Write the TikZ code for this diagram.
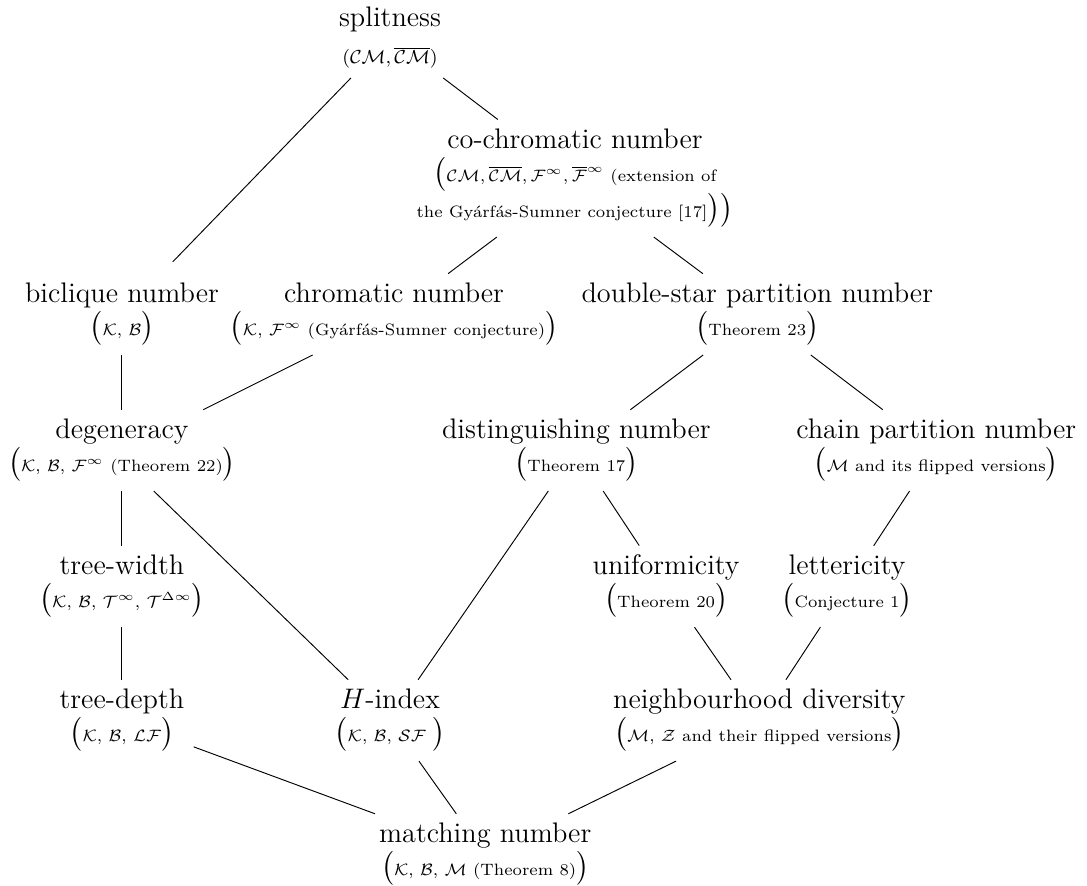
\documentclass[tikz,border=0pt]{standalone}
\usepackage{amsmath}
\usetikzlibrary{positioning}

\newcommand{\params}[1]{$\bigl(${\scriptsize #1}$\bigr)$}

\begin{document}
\begin{tikzpicture}
        [
        every node/.style={align=center, font=\large, inner sep=2pt, outer sep=2pt},
        link/.style={draw}
        ]
        \useasboundingbox (0,0) rectangle (16.22,-13.22);
        % Level 0
        \node (split) at (5.82,-0.56) {splitness\\[2pt] {\footnotesize $(\mathcal{CM},\overline{\mathcal{CM}})$}};
        % Level 1
        \node (cochrom) at (8.58,-2.66) {co-chromatic number\\
            $\bigl(${\scriptsize $\mathcal{CM},\overline{\mathcal{CM}},\mathcal{F}^\infty,\overline{\mathcal{F}}^\infty$ (extension of}\\
            {\scriptsize the Gyárfás-Sumner conjecture [17]}$\bigr)\bigr)$};
        % Level 2
        \node (biclique) at (1.82,-4.69) {biclique number\\ \params{$\mathcal{K}$, $\mathcal{B}$}};
        \node (chrom) at (5.88,-4.69) {chromatic number\\ \params{$\mathcal{K}$, $\mathcal{F}^\infty$ (Gyárfás-Sumner conjecture)}};
        \node (dstar) at (11.30,-4.69) {double-star partition number\\ \params{Theorem 23}};
        % Level 3
        \node (degen) at (1.82,-6.72) {degeneracy\\ \params{$\mathcal{K}$, $\mathcal{B}$, $\mathcal{F}^\infty$ (Theorem 22)}};
        \node (disting) at (8.60,-6.72) {distinguishing number\\ \params{Theorem 17}};
        \node (chain) at (13.97,-6.72) {chain partition number\\ \params{$\mathcal{M}$ and its flipped versions}};
        % Level 4
        \node (twidth) at (1.82,-8.75) {tree-width\\ \params{$\mathcal{K}$, $\mathcal{B}$, $\mathcal{T}^\infty$, $\mathcal{T}^{\Delta\infty}$}};
        \node (uniform) at (9.94,-8.75) {uniformicity\\ \params{Theorem 20}};
        \node (letter) at (12.64,-8.75) {lettericity\\ \params{Conjecture 1}};
        % Level 5
        \node (tdepth) at (1.82,-10.75) {tree-depth\\ \params{$\mathcal{K}$, $\mathcal{B}$, $\mathcal{LF}$}};
        \node (hindex) at (5.82,-10.75) {$H$-index\\ \params{$\mathcal{K}$, $\mathcal{B}$, $\mathcal{SF}$ }};
        \node (nbdiv) at (11.33,-10.75) {neighbourhood diversity\\ \params{$\mathcal{M}$, $\mathcal{Z}$ and their flipped versions}};
        % Level 6
        \node (matching) at (7.24,-12.75) {matching number\\ \params{$\mathcal{K}$, $\mathcal{B}$, $\mathcal{M}$ (Theorem 8)}};

        % Edges
        \draw[link, shorten >=7pt] (split) -- (biclique);
        \draw[link] (split) -- (cochrom);
        \draw[link] (cochrom) -- (chrom);
        \draw[link] (cochrom) -- (dstar);
        \draw[link] (biclique) -- (degen);
        \draw[link] (chrom) -- (degen);
        \draw[link] (dstar) -- (disting);
        \draw[link] (dstar) -- (chain);
        \draw[link] (degen) -- (twidth);
        \draw[link] (degen.-52) -- (hindex);
        \draw[link] (disting) -- (hindex);
        \draw[link] (disting) -- (uniform);
        \draw[link] (chain) -- (letter);
        \draw[link] (twidth) -- (tdepth);
        \draw[link] (uniform) -- (nbdiv);
        \draw[link] (letter) -- (nbdiv);
        \draw[link] (tdepth) -- (matching);
        \draw[link] (hindex) -- (matching);
        \draw[link] (nbdiv) -- (matching);
    \end{tikzpicture}
\end{document}
